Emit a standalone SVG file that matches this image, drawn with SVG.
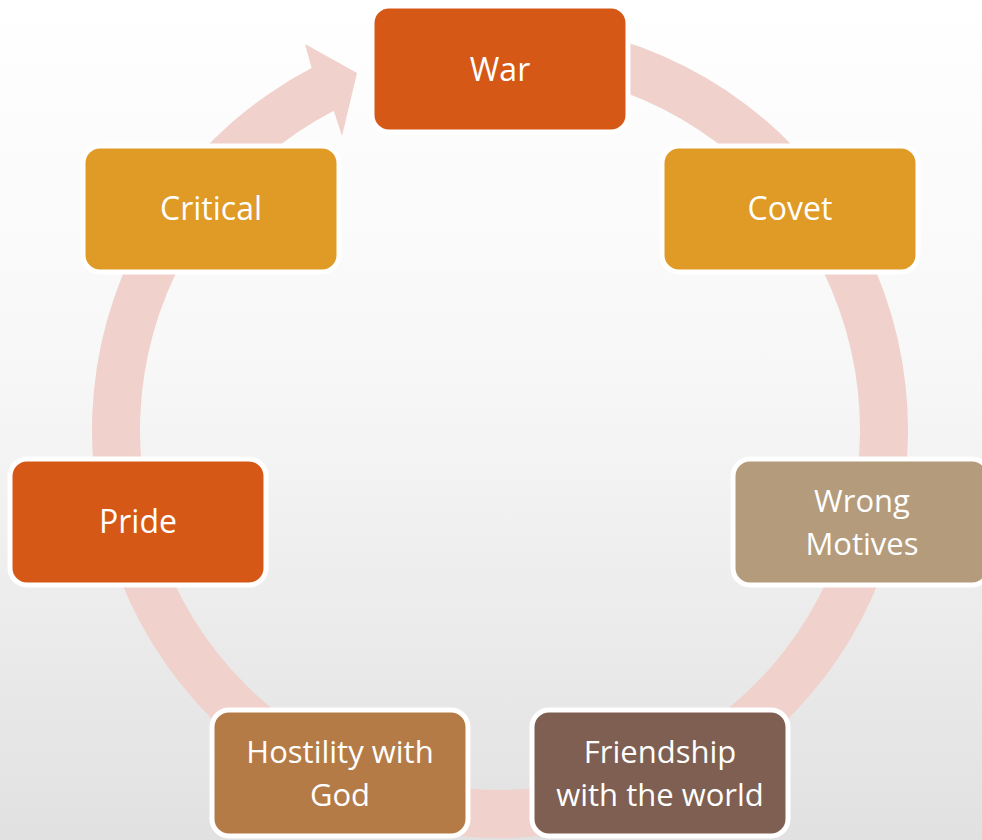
<svg xmlns="http://www.w3.org/2000/svg" width="982" height="840" viewBox="0 0 982 840">
<defs>
<linearGradient id="bg" x1="0" y1="0" x2="0" y2="1">
<stop offset="0" stop-color="#ffffff"/>
<stop offset="0.45" stop-color="#f7f7f7"/>
<stop offset="1" stop-color="#e1e1e1"/>
</linearGradient>
</defs>
<style>
.box{stroke:#ffffff;stroke-width:5}
.lbl{font-family:"Open Sans","Noto Sans",sans-serif;font-size:32px;fill:#ffffff;text-anchor:middle}
.ml{font-size:31px}
</style>
<rect width="982" height="840" fill="url(#bg)"/>
<g id="connectors">
<path d="M570.85,28.2 A408,408 0 1 1 311.6,68.1 L305,44 L357,73 L342,136 L333.8,110.7 A360,360 0 1 0 562.5,75.5 Z" fill="#f0d1cb"/>
</g>
<g id="war"><rect class="box" x="372" y="6" width="256" height="126" rx="17" fill="#d55816"/><text class="lbl" x="500" y="81">War</text></g>
<g id="covet"><rect class="box" x="662" y="146" width="256" height="126" rx="17" fill="#e09a26"/><text class="lbl" x="790" y="220">Covet</text></g>
<g id="wrong-motives"><rect class="box" x="733" y="459" width="256" height="126" rx="17" fill="#b39b7c"/><text class="lbl ml"><tspan x="862" y="512">Wrong</tspan><tspan x="862" y="555">Motives</tspan></text></g>
<g id="friendship"><rect class="box" x="532" y="710" width="256" height="126" rx="17" fill="#7f5f51"/><text class="lbl ml"><tspan x="660" y="763">Friendship</tspan><tspan x="660" y="806">with the world</tspan></text></g>
<g id="hostility"><rect class="box" x="212" y="710" width="256" height="126" rx="17" fill="#b47b47"/><text class="lbl ml"><tspan x="340" y="763">Hostility with</tspan><tspan x="340" y="806">God</tspan></text></g>
<g id="pride"><rect class="box" x="10" y="459" width="256" height="126" rx="17" fill="#d55816"/><text class="lbl" x="138" y="533">Pride</text></g>
<g id="critical"><rect class="box" x="83" y="146" width="256" height="126" rx="17" fill="#e09a26"/><text class="lbl" x="211" y="220">Critical</text></g>
</svg>
